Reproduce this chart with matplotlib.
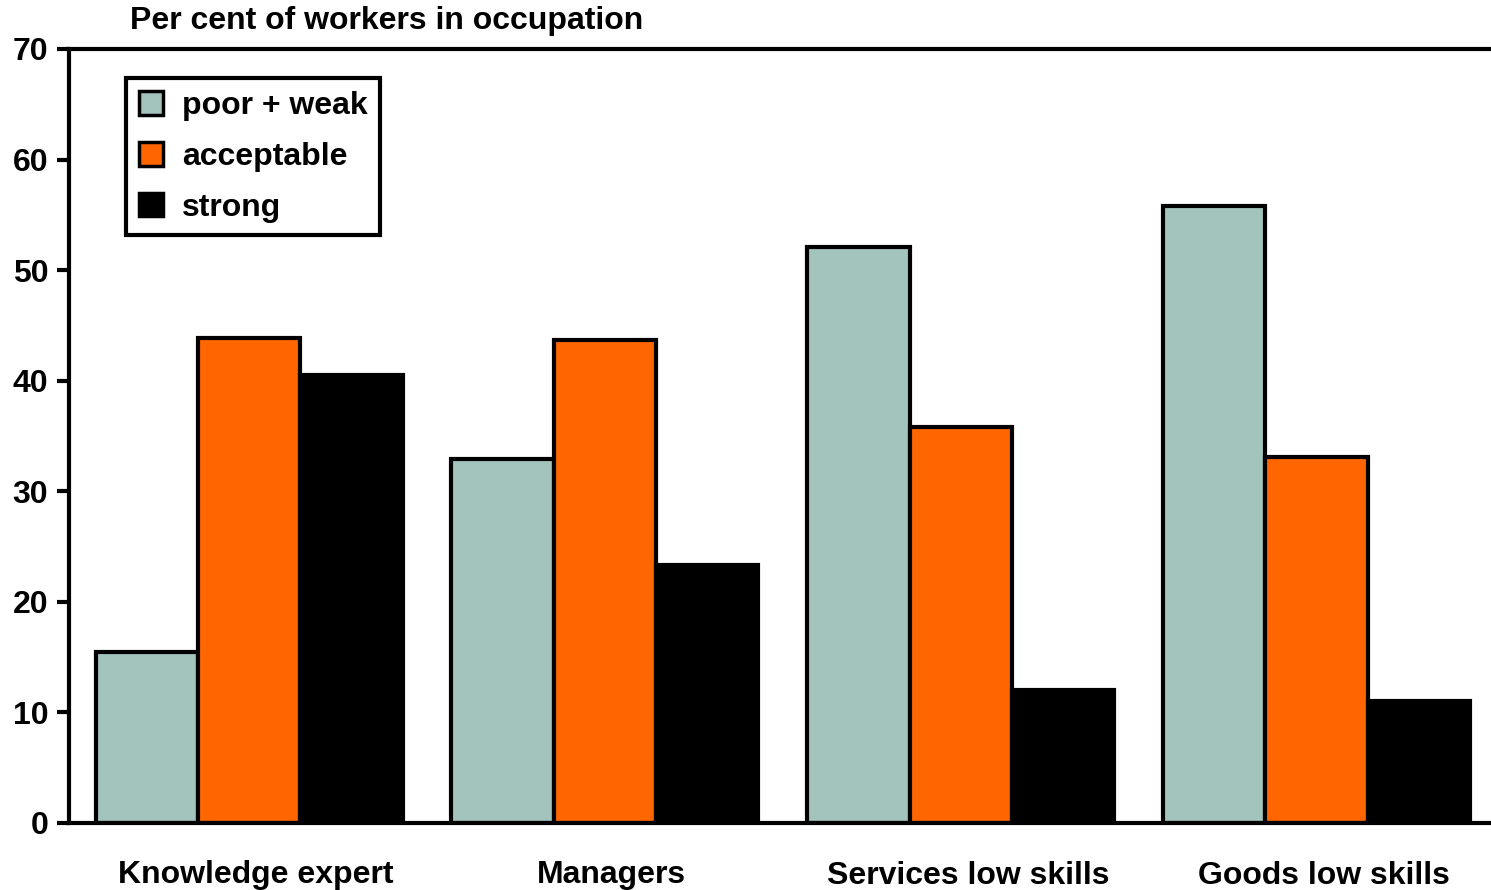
import numpy as np
import matplotlib.pyplot as plt
import matplotlib.transforms as mtransforms

plt.rcParams['font.family'] = ['Liberation Sans', 'DejaVu Sans']
plt.rcParams['font.weight'] = 'bold'

categories = ['Knowledge expert', 'Managers', 'Services low skills', 'Goods low skills']
poor_weak = [15.5, 32.9, 52.1, 55.8]
acceptable = [43.9, 43.7, 35.8, 33.1]
strong = [40.5, 23.3, 12.0, 11.0]

series = [('poor + weak', poor_weak, '#a2c4bd'),
          ('acceptable', acceptable, '#ff6600'),
          ('strong', strong, '#000000')]

fig = plt.figure(figsize=(14.91, 8.90), dpi=100)
ax = fig.add_axes([69 / 1491, 1 - 823 / 890, 1 - 69 / 1491, (823 - 49) / 890])

x = np.arange(len(categories))
w = 0.2875
for i, (name, vals, col) in enumerate(series):
    ax.bar(x + (i - 1) * w, vals, w, color=col, edgecolor='black',
           linewidth=3, label=name)

ax.set_ylim(0, 70)
ax.set_yticks(range(0, 71, 10))
ax.set_xlim(-0.506, 3.49)
ax.set_xticks(x)
ax.set_xticklabels(categories, fontsize=23, fontweight='bold')
ax.tick_params(axis='x', length=0, pad=27)
ax.tick_params(axis='y', length=9, width=3, labelsize=23, pad=6)
for lab in ax.get_yticklabels():
    lab.set_fontweight('bold')
# category labels sit a little right of the group centres
shift = mtransforms.ScaledTranslation(7 / 100, 0, fig.dpi_scale_trans)
for lab in ax.get_xticklabels():
    lab.set_transform(lab.get_transform() + shift)

ax.spines['right'].set_visible(False)
for s in ['top', 'left', 'bottom']:
    ax.spines[s].set_linewidth(3)

leg = ax.legend(loc='upper left', bbox_to_anchor=(0.04, 0.962), fontsize=23,
                frameon=True, fancybox=False, framealpha=1, edgecolor='black',
                borderaxespad=0, handlelength=0.75, handleheight=0.75,
                handletextpad=0.6, labelspacing=0.65, borderpad=0.4)
leg.get_frame().set_linewidth(3)
for t in leg.get_texts():
    t.set_fontweight('bold')
for h in leg.legend_handles:
    h.set_linewidth(2.5)

fig.text(130 / 1491, 1 - 21 / 890, 'Per cent of workers in occupation',
         fontsize=23, fontweight='bold', va='center', ha='left')

fig.savefig('out.png', dpi=100)
